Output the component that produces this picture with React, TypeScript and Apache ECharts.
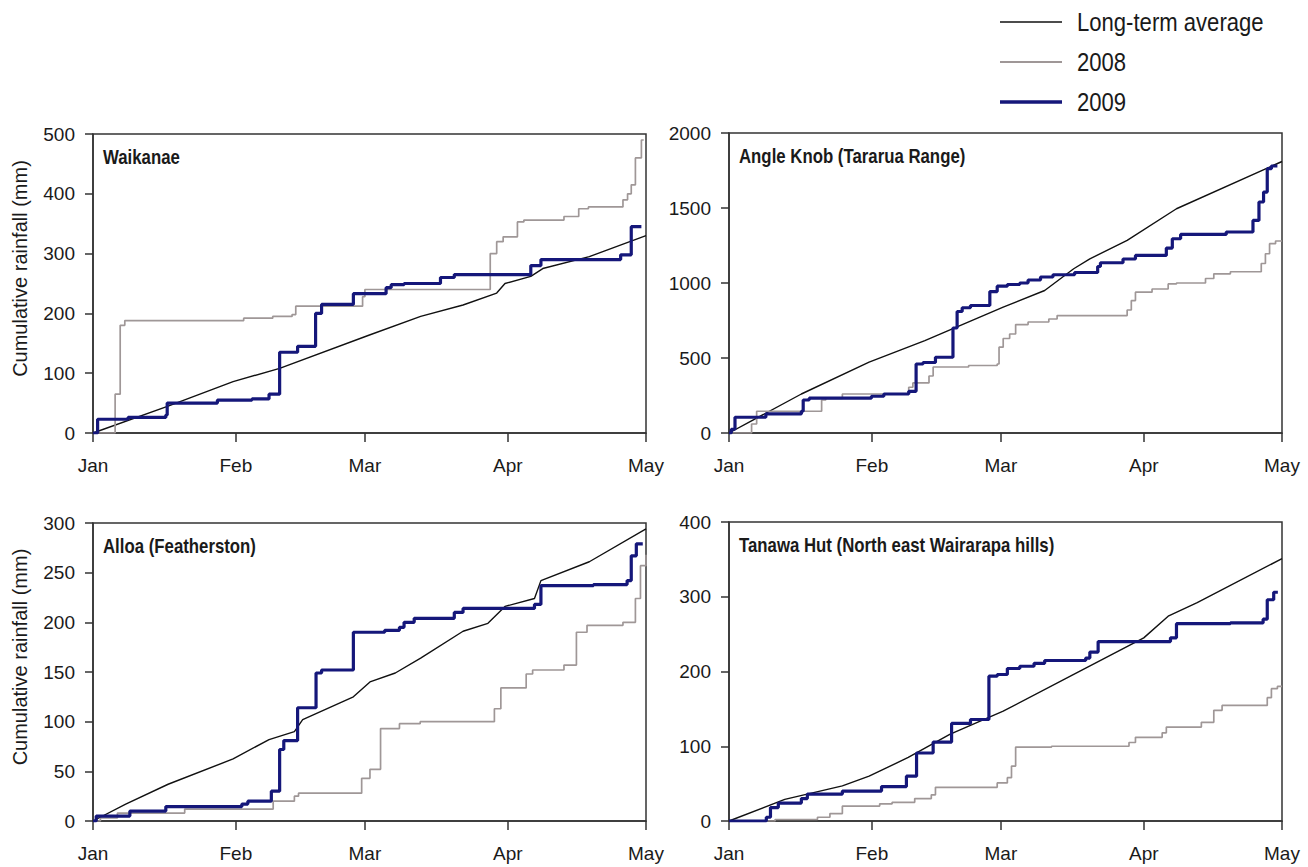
import React, { useEffect, useRef } from "react";
import * as echarts from "echarts";

// ---- Data (x = days since 1 Jan, y = cumulative rainfall in mm) ----
const monthTicks = [0, 31, 59, 90, 120];
const monthLabels = ["Jan", "Feb", "Mar", "Apr", "May"];

const stationNames = [
  "Waikanae",
  "Angle Knob (Tararua Range)",
  "Alloa (Featherston)",
  "Tanawa Hut (North east Wairarapa hills)",
];
const yMax = [500, 2000, 300, 400];
const yStep = [100, 500, 50, 100];
const yAxisTitle = "Cumulative rainfall (mm)";

const seriesNames = ["Long-term average", "2008", "2009"];

const waikanaeAvg = [[0, 0], [16.3, 45], [30.4, 86], [40.5, 108], [59.7, 163], [71.1, 195], [80.3, 214], [87.6, 234], [89.4, 250], [95, 262], [97.6, 275], [107.7, 295], [120, 330]];
const waikanae2008 = [[0, 0], [4.8, 65], [5.9, 180], [6.9, 188], [32.7, 192], [39, 195], [43.2, 198], [44, 212], [58.5, 228], [59, 240], [86.2, 300], [87.6, 320], [89, 328], [92.1, 353], [93.5, 356], [102.2, 362], [105.4, 375], [107.5, 378], [115, 390], [116, 400], [116.8, 415], [117.7, 460], [119, 490], [119.5, 490]];
const waikanae2009 = [[0, 0], [1, 23], [7.6, 26], [15.8, 30], [16.1, 50], [27, 55], [34.5, 57], [38.2, 65], [40.5, 135], [44.4, 145], [48.3, 200], [49.6, 215], [56.5, 233], [63.6, 243], [64.7, 248], [67.5, 250], [75.4, 260], [78.4, 265], [95, 280], [97.2, 290], [114.5, 298], [116.8, 345], [119, 345]];

const angleAvg = [[0, 0], [15.7, 260], [30.4, 472], [42.5, 616], [59.5, 839], [68.5, 950], [74.8, 1095], [78.3, 1161], [86.4, 1284], [97.1, 1495], [120, 1810]];
const angle2008 = [[0, 0], [4.9, 60], [6, 145], [20.1, 220], [21, 230], [24.6, 260], [39, 305], [39.9, 334], [43.4, 380], [44.3, 440], [52, 450], [58.2, 460], [58.6, 572], [59.5, 630], [60.9, 660], [62.2, 723], [64.9, 740], [69.4, 760], [71.2, 783], [86.4, 820], [87.3, 883], [88.2, 939], [91.8, 960], [95.3, 994], [97.1, 1000], [103.4, 1030], [105.2, 1061], [108.8, 1075], [115.5, 1130], [116.4, 1195], [117.3, 1262], [118.6, 1280], [120, 1280]];
const angle2009 = [[0, 0], [0.5, 25], [1.3, 105], [8, 127], [15.7, 145], [16.1, 220], [17.4, 232], [30.9, 245], [33.6, 260], [39, 278], [40.6, 460], [42.1, 470], [44.8, 505], [48.6, 700], [49.5, 810], [50.6, 835], [52.4, 850], [56.6, 943], [58.2, 979], [60.4, 990], [63.1, 1000], [64.9, 1020], [67.6, 1040], [70.3, 1055], [75, 1070], [80, 1110], [80.6, 1135], [85.5, 1160], [88.2, 1184], [94.9, 1233], [96.2, 1295], [98, 1324], [107.9, 1340], [113.7, 1417], [115, 1540], [116, 1606], [116.8, 1762], [117.7, 1780], [119, 1780]];

const alloaAvg = [[0, 0], [7.1, 17], [16.3, 37], [30.4, 62.5], [38.2, 82], [43.7, 90], [45.5, 102], [56.5, 125], [60.1, 140], [65.6, 149], [71.1, 164], [80.3, 191], [85.7, 199], [89.4, 216], [95.8, 224], [97.2, 242], [107.7, 261], [120, 294]];
const alloa2008 = [[0, 0], [1.6, 3], [5.3, 8], [19.9, 12], [39.1, 20], [43.7, 25], [44.6, 28], [58.3, 43], [60.1, 52], [62.4, 93], [66.5, 98], [71, 100], [87.1, 113], [88.5, 134], [94, 148], [95.4, 152], [102.2, 157], [104.9, 190], [107.2, 197], [115, 200], [117.7, 224], [118.8, 257], [120, 268]];
const alloa2009 = [[0, 0], [0.7, 5], [8, 10], [15.8, 14.5], [32.3, 17], [33.6, 20], [38.7, 30], [40.5, 72], [41.4, 81], [44.4, 114], [48.4, 149], [49.6, 152], [56.5, 190], [63.3, 192], [66.5, 195], [67.5, 200], [69.7, 204], [78.4, 210], [80.3, 214], [95.8, 218], [97.2, 237], [108.6, 238], [115.9, 242], [116.8, 267], [117.9, 279], [119.3, 279]];

const tanawaAvg = [[0, 0], [12.1, 29], [24.6, 47], [30.4, 60], [38.9, 85], [47.9, 116], [59.5, 147], [74.8, 196], [90, 245], [95.3, 274], [101.6, 292], [120, 351]];
const tanawa2008 = [[0, 0], [10, 2], [19.2, 5], [21.9, 10], [24.6, 20], [32.7, 23], [35.4, 25], [40.3, 30], [43.9, 35], [44.8, 45], [58.2, 51], [60.4, 58], [61.3, 73.5], [62.2, 98.9], [70, 100], [86.8, 105], [88.2, 112], [94, 118], [94.9, 125.6], [102.5, 132], [105.2, 148], [107, 154.6], [116.8, 165], [117.7, 177], [119, 180], [120, 180]];
const tanawa2009 = [[0, 0], [8.1, 5], [9, 18], [10.7, 24], [15.7, 30], [17, 36], [24.6, 40], [33.1, 46], [38.5, 60], [40.7, 91], [44.3, 105.6], [48.3, 130.5], [52.4, 135.8], [56.4, 193.7], [58.2, 196], [60.4, 204], [63.1, 207], [66.2, 211], [68.5, 214.7], [77.4, 218], [78.3, 226], [80.1, 240], [95.8, 245], [97.1, 264], [108.8, 265], [115.9, 270], [116.8, 296], [118.2, 306], [119.1, 306]];

const avgSeries = [waikanaeAvg, angleAvg, alloaAvg, tanawaAvg];
const y2008Series = [waikanae2008, angle2008, alloa2008, tanawa2008];
const y2009Series = [waikanae2009, angle2009, alloa2009, tanawa2009];

// ---- Layout / style ----
const FONT = '"Liberation Sans", Arial, sans-serif';
const AXIS = "#333";
const TEXT = "#1a1a1a";
const COL_AVG = "#111111";
const COL_2008 = "#9f9797";
const COL_2009 = "#15177a";
const NARROW_SCALE = 0.84;

const grids = [
  { left: 93, top: 134, width: 553, height: 299 },
  { left: 729, top: 133, width: 553, height: 300 },
  { left: 93, top: 523, width: 553, height: 298 },
  { left: 729, top: 522, width: 553, height: 299 },
];

function buildOption() {
  const grid = grids.map((g) => ({
    ...g,
    show: true,
    borderColor: AXIS,
    borderWidth: 1.5,
    backgroundColor: "transparent",
    containLabel: false,
    outerBoundsMode: "none",
  }));

  const xAxis = grids.map((_, i) => ({
    type: "value",
    gridIndex: i,
    min: 0,
    max: 120,
    splitLine: { show: false },
    axisLine: { show: true, lineStyle: { color: AXIS, width: 1.5 } },
    axisTick: {
      show: true,
      length: 9,
      customValues: monthTicks,
      lineStyle: { color: AXIS, width: 1.5 },
    },
    axisLabel: {
      customValues: monthTicks,
      formatter: (v: number) => monthLabels[monthTicks.indexOf(Math.round(v))] ?? "",
      margin: 23,
      fontSize: 19,
      fontFamily: FONT,
      color: TEXT,
    },
  }));

  const yAxis = grids.map((_, i) => ({
    type: "value",
    gridIndex: i,
    min: 0,
    max: yMax[i],
    interval: yStep[i],
    splitLine: { show: false },
    axisLine: { show: true, lineStyle: { color: AXIS, width: 1.5 } },
    axisTick: { show: true, length: 8, lineStyle: { color: AXIS, width: 1.5 } },
    axisLabel: {
      margin: 18,
      fontSize: 19,
      fontFamily: FONT,
      color: TEXT,
      formatter: (v: number) => String(v),
    },
  }));

  const series: any[] = [];
  for (let i = 0; i < 4; i++) {
    series.push({
      name: seriesNames[0],
      type: "line",
      xAxisIndex: i,
      yAxisIndex: i,
      data: avgSeries[i],
      symbol: "none",
      lineStyle: { color: COL_AVG, width: 1.4 },
      z: 2,
    });
    series.push({
      name: seriesNames[1],
      type: "line",
      step: "end",
      xAxisIndex: i,
      yAxisIndex: i,
      data: y2008Series[i],
      symbol: "none",
      lineStyle: { color: COL_2008, width: 1.7 },
      z: 3,
    });
    series.push({
      name: seriesNames[2],
      type: "line",
      step: "end",
      xAxisIndex: i,
      yAxisIndex: i,
      data: y2009Series[i],
      symbol: "none",
      lineStyle: { color: COL_2009, width: 3.2 },
      z: 4,
    });
  }

  const graphic: any[] = [];

  // panel titles (condensed bold)
  grids.forEach((g, i) => {
    graphic.push({
      type: "text",
      x: g.left + 10,
      y: g.top + 23,
      scaleX: NARROW_SCALE,
      z: 10,
      style: {
        text: stationNames[i],
        fontSize: 20,
        fontWeight: "bold",
        fontFamily: FONT,
        fill: TEXT,
        verticalAlign: "middle",
      },
    });
  });

  // legend
  const legendColors = [COL_AVG, COL_2008, COL_2009];
  const legendWidths = [1.5, 1.8, 3.4];
  const legendY = [22, 62, 102];
  seriesNames.forEach((n, k) => {
    graphic.push({
      type: "line",
      shape: { x1: 1000, y1: legendY[k], x2: 1062, y2: legendY[k] },
      style: { stroke: legendColors[k], lineWidth: legendWidths[k] },
    });
    graphic.push({
      type: "text",
      x: 1077,
      y: legendY[k],
      scaleX: 0.85,
      style: {
        text: n,
        fontSize: 26,
        fontFamily: FONT,
        fill: TEXT,
        verticalAlign: "middle",
      },
    });
  });

  // rotated y-axis titles for the left-hand panels
  [0, 2].forEach((i) => {
    const g = grids[i];
    graphic.push({
      type: "text",
      x: 20,
      y: g.top + g.height / 2 - 15,
      rotation: Math.PI / 2,
      style: {
        text: yAxisTitle,
        fontSize: 20,
        fontFamily: FONT,
        fill: TEXT,
        align: "center",
        verticalAlign: "middle",
      },
    });
  });

  return {
    animation: false,
    backgroundColor: "#ffffff",
    grid,
    xAxis,
    yAxis,
    series,
    graphic,
  };
}

export default function App() {
  const ref = useRef<HTMLDivElement>(null);
  useEffect(() => {
    if (!ref.current) return;
    const chart = echarts.init(ref.current, null, { renderer: "svg" });
    chart.setOption(buildOption() as any);
    return () => chart.dispose();
  }, []);
  return (
    <div
      ref={ref}
      style={{ position: "absolute", left: 0, top: 0, width: 1308, height: 867, background: "#fff" }}
    />
  );
}
